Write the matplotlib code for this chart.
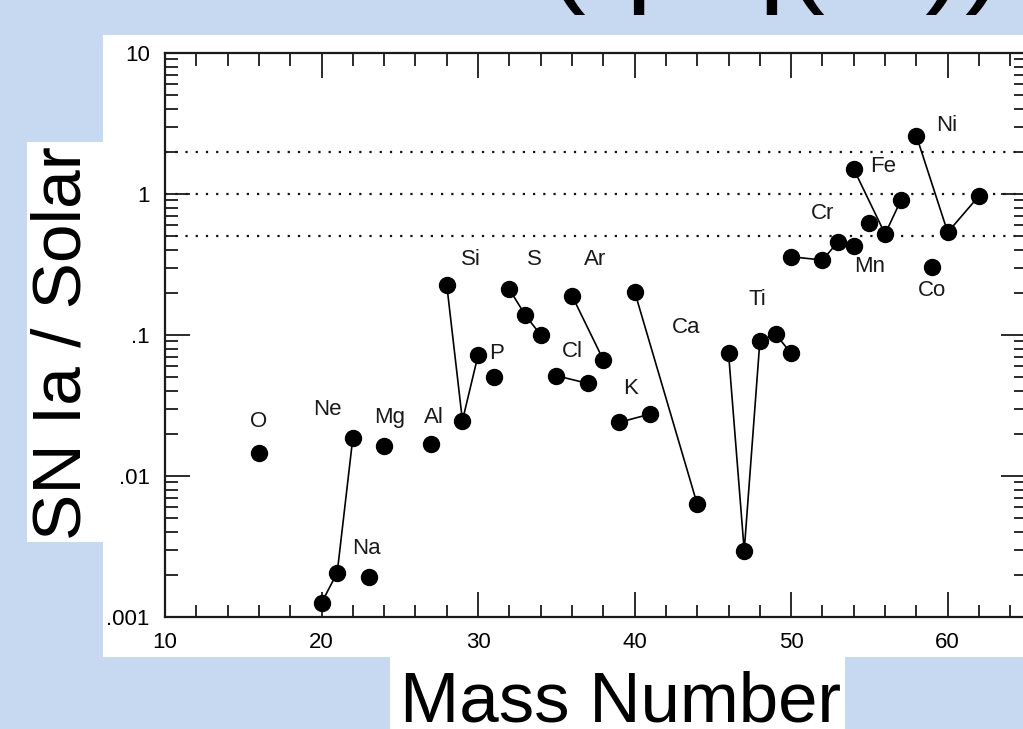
import matplotlib
matplotlib.use("Agg")
import matplotlib.pyplot as plt
from matplotlib.patches import Rectangle
from matplotlib.ticker import FixedLocator, FixedFormatter, MultipleLocator, LogLocator, NullFormatter

plt.rcParams['font.family'] = ['Liberation Sans', 'DejaVu Sans']

# ---- data (mass number, SN Ia / Solar) ----
O_A, O_v = [16], [0.0146]
Ne_A, Ne_v = [20, 21, 22], [0.00126, 0.00206, 0.0187]
Na_A, Na_v = [23], [0.00193]
Mg_A, Mg_v = [24], [0.0163]
Al_A, Al_v = [27], [0.0168]
Si_A, Si_v = [28, 29, 30], [0.226, 0.0247, 0.072]
P_A, P_v = [31], [0.0506]
S_A, S_v = [32, 33, 34], [0.211, 0.139, 0.100]
Cl_A, Cl_v = [35, 37], [0.0514, 0.0454]
Ar_A, Ar_v = [36, 38], [0.190, 0.0666]
K_A, K_v = [39, 41], [0.0240, 0.0275]
Ca_A, Ca_v = [40, 44], [0.203, 0.0063]
Ti_A, Ti_v = [46, 47, 48, 49, 50], [0.074, 0.00295, 0.0906, 0.1016, 0.074]
Cr_A, Cr_v = [50, 52, 53, 54], [0.359, 0.340, 0.459, 0.430]
Mn_A, Mn_v = [55], [0.619]
Fe_A, Fe_v = [54, 56, 57], [1.50, 0.52, 0.90]
Co_A, Co_v = [59], [0.302]
Ni_A, Ni_v = [58, 60, 62], [2.58, 0.535, 0.97]

element_names = ['O', 'Ne', 'Na', 'Mg', 'Al', 'Si', 'P', 'S', 'Cl', 'Ar', 'K',
                 'Ca', 'Ti', 'Cr', 'Mn', 'Fe', 'Co', 'Ni']
label_A = [16, 20.4, 22.86, 24.35, 27.2, 29.56, 31.15, 33.6, 36.0, 37.5, 39.76,
           43.26, 47.84, 52.03, 55.0, 55.85, 59.0, 59.95]
label_v = [0.0243, 0.0297, 0.00307, 0.026, 0.026, 0.344, 0.074, 0.344, 0.076, 0.344, 0.042,
           0.113, 0.179, 0.73, 0.305, 1.56, 0.208, 3.08]

ref_levels = [2.0, 1.0, 0.5]
y_ticks = [0.001, 0.01, 0.1, 1, 10]
y_ticklabels = ['.001', '.01', '.1', '1', '10']
x_ticks = [10, 20, 30, 40, 50, 60]
x_ticklabels = ['10', '20', '30', '40', '50', '60']
x_label = 'Mass Number'
y_label = 'SN Ia / Solar'
slide_title = '(q/ q(\u2299))'

groups = [(O_A, O_v), (Ne_A, Ne_v), (Na_A, Na_v), (Mg_A, Mg_v), (Al_A, Al_v),
          (Si_A, Si_v), (P_A, P_v), (S_A, S_v), (Cl_A, Cl_v), (Ar_A, Ar_v),
          (K_A, K_v), (Ca_A, Ca_v), (Ti_A, Ti_v), (Cr_A, Cr_v), (Mn_A, Mn_v),
          (Fe_A, Fe_v), (Co_A, Co_v), (Ni_A, Ni_v)]

W, H = 1023, 729
fig = plt.figure(figsize=(W / 100, H / 100), dpi=100)
fig.patch.set_facecolor('#c6d9f0')

def px_rect(x0, y0, x1, y1):
    # pixel box (top-left origin) -> figure fraction rectangle
    return Rectangle((x0 / W, 1 - y1 / H), (x1 - x0) / W, (y1 - y0) / H,
                     transform=fig.transFigure, facecolor='white', edgecolor='none', zorder=-10)

fig.patches.append(px_rect(103, 35, 1030, 657))
fig.patches.append(px_rect(27, 142, 103, 542))
fig.patches.append(px_rect(390, 650, 845, 735))

fig.text(775 / W, 1 + 10 / H, slide_title, fontsize=86, ha='center', va='baseline', zorder=-20)

ax = fig.add_axes([165 / W, 1 - 617 / H, 861 / W, 564 / H])
ax.set_zorder(1)
ax.set_facecolor('white')
ax.set_yscale('log')
ax.set_xlim(10, 65)
ax.set_ylim(0.001, 10)

for lvl in ref_levels:
    ax.axhline(lvl, color='#111111', lw=1.6, linestyle=(0, (1, 3.6)), zorder=1)

for A, v in groups:
    ax.plot(A, v, color='black', lw=1.2, marker='o', markersize=11.5,
            markerfacecolor='black', markeredgecolor='black', zorder=3)

for name, xa, yv in zip(element_names, label_A, label_v):
    ax.text(xa, yv, name, fontsize=16, ha='center', va='center', color='#1a1a1a', zorder=4)

# ticks
ax.yaxis.set_major_locator(FixedLocator(y_ticks))
ax.yaxis.set_major_formatter(FixedFormatter(y_ticklabels))
ax.yaxis.set_minor_locator(LogLocator(base=10, subs=[2, 3, 4, 5, 6, 7, 8, 9]))
ax.yaxis.set_minor_formatter(NullFormatter())
ax.xaxis.set_major_locator(FixedLocator(x_ticks))
ax.xaxis.set_major_formatter(FixedFormatter(x_ticklabels))
ax.xaxis.set_minor_locator(MultipleLocator(2))

ax.tick_params(which='both', direction='in', top=True, right=True, color='#1a1a1a')
ax.tick_params(which='major', length=18, width=1.3, labelsize=16, pad=11)
ax.tick_params(which='minor', length=9, width=1.3)
ax.tick_params(axis='x', which='major', pad=11)
for sp in ax.spines.values():
    sp.set_linewidth(1.6)
    sp.set_color('#1a1a1a')

fig.text(63 / W, 1 - 343 / H, y_label, rotation=90, fontsize=50, ha='center', va='center')
fig.text(621 / W, 1 - 722 / H, x_label, fontsize=51, ha='center', va='baseline')

fig.savefig('out.png', dpi=100, facecolor=fig.get_facecolor())
